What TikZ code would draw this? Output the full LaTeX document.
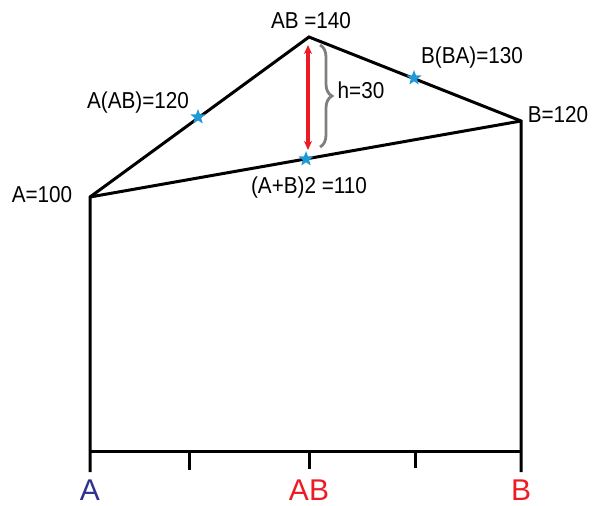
\documentclass[tikz,border=0pt]{standalone}
\usepackage{fontspec}
\setmainfont{Liberation Sans}
\newfontfamily\condfont[FakeStretch=0.9]{Liberation Sans}
\usetikzlibrary{shapes.geometric,arrows.meta,decorations.pathreplacing}
\definecolor{starblue}{HTML}{1E9AD6}
\definecolor{darkblueA}{HTML}{2E3192}
\definecolor{redAB}{HTML}{ED1C24}
\definecolor{bracegray}{HTML}{7F7F7F}
\tikzset{
  edge/.style={line width=3pt, black},
  lbl/.style={font=\condfont\fontsize{23}{25}\selectfont, inner sep=0pt},
  biglbl/.style={font=\fontsize{30}{32}\selectfont, inner sep=0pt, anchor=base},
  starmark/.style={star, star points=5, star point ratio=2.4, minimum size=16pt, inner sep=0pt, fill=starblue, draw=none},
}
\begin{document}
\begin{tikzpicture}[x=1pt,y=-1pt]
\useasboundingbox (0,0) rectangle (592,506);
% corner points
\coordinate (A) at (90,197);
\coordinate (T) at (309,37);
\coordinate (B) at (521,121);
\coordinate (Abot) at (90,472);
\coordinate (Bbot) at (521,472);
\coordinate (BL) at (90,451);
\coordinate (BR) at (521,451);
\coordinate (t1) at (189,451);
\coordinate (t1e) at (189,470);
\coordinate (t2) at (309,451);
\coordinate (t2e) at (309,469);
\coordinate (t3) at (415,451);
\coordinate (t3e) at (415,468);
% outline
\draw[edge, line join=miter] (Abot) -- (A) -- (T) -- (B) -- (Bbot);
\draw[edge] (A) -- (B);
\draw[edge] (BL) -- (BR);
\draw[edge] (t1) -- (t1e);
\draw[edge] (t2) -- (t2e);
\draw[edge] (t3) -- (t3e);
% red double arrow
\coordinate (ar1) at (308,45);
\coordinate (ar2) at (308,150);
\draw[redAB, line width=3.2pt, {Stealth[length=9pt,width=8pt]}-{Stealth[length=9pt,width=8pt]}] (ar1) -- (ar2);
% brace
\coordinate (br1) at (320,45);
\coordinate (br2) at (320,147);
\draw[bracegray, line width=2.8pt, decorate, decoration={brace, amplitude=12pt}] (br1) -- (br2);
% stars
\node[starmark] (s1) at (198,117) {};
\node[starmark] (s2) at (414,78) {};
\node[starmark] (s3) at (306,159) {};
% labels
\node[lbl] (lAB) at (311,21) {AB =140};
\node[lbl] (lAAB) at (138,103) {A(AB)=120};
\node[lbl] (lBBA) at (472,58) {B(BA)=130};
\node[lbl] (lB) at (558,115) {B=120};
\node[lbl] (lA) at (42,195) {A=100};
\node[lbl] (lmid) at (309,188) {(A+B)2 =110};
\node[lbl] (lh) at (361,90) {h=30};
% bottom labels
\node[biglbl, text=darkblueA] (bA) at (90,500) {A};
\node[biglbl, text=redAB] (bAB) at (309,500) {AB};
\node[biglbl, text=redAB] (bB) at (521,500) {B};
\end{tikzpicture}
\end{document}
